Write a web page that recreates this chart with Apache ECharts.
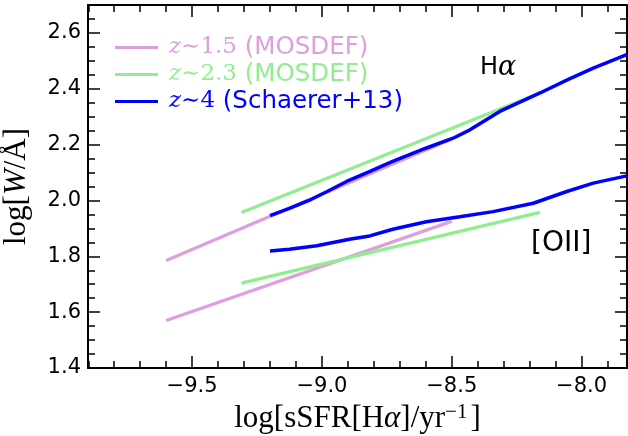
<!DOCTYPE html>
<html>
<head>
<meta charset="utf-8">
<script src="https://cdn.jsdelivr.net/npm/echarts@6/dist/echarts.min.js"></script>
<style>html,body{margin:0;padding:0;background:#fff}#c{width:628px;height:436px}</style>
</head>
<body>
<div id="c"></div>
<script>
// ---- data ----
const legendNames = ['z15', 'z23', 'z4'];
const pinkHaX = [-9.6, -8.5];
const pinkHaY = [1.785, 2.22];
const pinkOiiX = [-9.6, -8.5];
const pinkOiiY = [1.57, 1.925];
const greenHaX = [-9.31, -8.16];
const greenHaY = [1.957, 2.385];
const greenOiiX = [-9.31, -8.16];
const greenOiiY = [1.704, 1.957];
const blueHaX = [-9.2, -9.125, -9.05, -8.98, -8.905, -8.815, -8.73, -8.6, -8.495, -8.43, -8.315, -8.16, -8.055, -7.955, -7.826];
const blueHaY = [1.946, 1.972, 2.0, 2.032, 2.068, 2.104, 2.139, 2.187, 2.223, 2.253, 2.319, 2.385, 2.432, 2.474, 2.522];
const blueOiiX = [-9.2, -9.125, -9.02, -8.894, -8.816, -8.727, -8.598, -8.469, -8.341, -8.186, -8.057, -7.955, -7.826];
const blueOiiY = [1.819, 1.825, 1.838, 1.861, 1.873, 1.897, 1.924, 1.942, 1.960, 1.990, 2.032, 2.062, 2.088];

const xMajorTicks = [-9.5, -9.0, -8.5, -8.0];
const xMinorTicks = [-9.9, -9.8, -9.7, -9.6, -9.4, -9.3, -9.2, -9.1, -8.9, -8.8, -8.7, -8.6, -8.4, -8.3, -8.2, -8.1, -7.9];
const yMajorTicks = [1.4, 1.6, 1.8, 2.0, 2.2, 2.4, 2.6];
const yMinorTicks = [1.45, 1.5, 1.55, 1.65, 1.7, 1.75, 1.85, 1.9, 1.95, 2.05, 2.1, 2.15, 2.25, 2.3, 2.35, 2.45, 2.5, 2.55, 2.65];
const xRange = [-9.901, -7.825];
const yRange = [1.4, 2.7];

const zip = (xs, ys) => xs.map((x, i) => [x, ys[i]]);

const PINK = '#DDA0DD', GREEN = '#90EE90', BLUE = '#0000FF';
const legendText = {
  z15: '{m|z}{s|∼1.5}{t| (MOSDEF)}',
  z23: '{m|z}{s|∼2.3}{t| (MOSDEF)}',
  z4: '{m|z}{s|∼4}{t| (Schaerer+13)}'
};
const legendColors = {z15: PINK, z23: GREEN, z4: BLUE};
const rich = {
  m: {fontFamily: 'DejaVu Serif', fontStyle: 'italic', fontSize: 23},
  s: {fontFamily: 'DejaVu Serif', fontSize: 23},
  t: {fontFamily: 'DejaVu Sans', fontSize: 24.5}
};

const tickStyle = {lineStyle: {color: '#000', width: 1.5}};
function majorAxis(dim, pos, grid, showLabel, vals, range) {
  return {
    type: 'value', gridIndex: grid, position: pos, min: range[0], max: range[1],
    axisLine: {show: true, onZero: false, lineStyle: {color: '#000', width: 2}},
    axisTick: Object.assign({show: true, inside: true, length: 12, customValues: vals}, tickStyle),
    axisLabel: showLabel ? {
      show: true, customValues: vals, fontFamily: 'DejaVu Sans', fontSize: 21, color: '#000',
      margin: dim === 'x' ? 8 : 7,
      formatter: v => (v < 0 ? '−' + Math.abs(v).toFixed(1) : v.toFixed(1))
    } : {show: false},
    splitLine: {show: false}
  };
}
function minorAxis(pos, vals, range) {
  return {
    type: 'value', gridIndex: 1, position: pos, min: range[0], max: range[1],
    axisLine: {show: false, onZero: false},
    axisTick: Object.assign({show: true, inside: true, length: 7, customValues: vals}, tickStyle),
    axisLabel: {show: false}, splitLine: {show: false}
  };
}

const TF = 'Liberation Serif';
const xa0 = majorAxis('x', 'bottom', 0, true, xMajorTicks, xRange);
xa0.name = '{a|log[sSFR[H}{b|α}{a|]/yr}{c|−1}{a|]}';
xa0.nameLocation = 'middle';
xa0.nameGap = 32;
xa0.nameTextStyle = {
  rich: {
    a: {fontFamily: TF, fontSize: 31, color: '#000'},
    b: {fontFamily: TF, fontStyle: 'italic', fontSize: 31, color: '#000'},
    c: {fontFamily: TF, fontSize: 21, color: '#000', verticalAlign: 'top', padding: [0, 3, 12, 0]}
  }
};
const ya0 = majorAxis('y', 'left', 0, true, yMajorTicks, yRange);
ya0.name = '{a|log[}{b|W}{a|/Å]}';
ya0.nameLocation = 'middle';
ya0.nameGap = 56;
ya0.nameTextStyle = {
  rich: {
    a: {fontFamily: TF, fontSize: 31, color: '#000'},
    b: {fontFamily: TF, fontStyle: 'italic', fontSize: 31, color: '#000'}
  }
};

function line(name, xs, ys, color, w, z) {
  return {
    type: 'line', name: name, xAxisIndex: 0, yAxisIndex: 0, data: zip(xs, ys),
    showSymbol: false, symbol: 'none', smooth: false, z: z,
    lineStyle: {color: color, width: w}, itemStyle: {color: color}, animation: false
  };
}

const gridBox = {left: 88, right: 1, top: 5, bottom: 68, containLabel: false, outerBoundsMode: 'none'};
const chart = echarts.init(document.getElementById('c'), null, {renderer: 'canvas'});
chart.setOption({
  animation: false,
  grid: [Object.assign({}, gridBox), Object.assign({}, gridBox)],
  xAxis: [
    xa0,
    majorAxis('x', 'top', 0, false, xMajorTicks, xRange),
    minorAxis('bottom', xMinorTicks, xRange),
    minorAxis('top', xMinorTicks, xRange)
  ],
  yAxis: [
    ya0,
    majorAxis('y', 'right', 0, false, yMajorTicks, yRange),
    minorAxis('left', yMinorTicks, yRange),
    minorAxis('right', yMinorTicks, yRange)
  ],
  legend: {
    show: true, orient: 'vertical', left: 115, top: 34, itemGap: 0, padding: 0,
    itemWidth: 43, itemHeight: 3, icon: 'rect',
    data: legendNames.map(n => ({name: n, textStyle: {color: legendColors[n], rich: rich, lineHeight: 27, padding: [0, 0, 0, 6]}})),
    formatter: n => legendText[n],
    textStyle: {rich: rich, lineHeight: 27}
  },
  graphic: [
    {type: 'text', left: 480, top: 54, style: {text: '{h|H}{a|α}', rich: {
      h: {fontFamily: 'DejaVu Sans', fontSize: 24, fill: '#000'},
      a: {fontFamily: 'DejaVu Serif', fontStyle: 'italic', fontSize: 27, fill: '#000'}}}},
    {type: 'text', left: 531, top: 230, style: {text: '[OII]', font: '28px "DejaVu Sans"', fill: '#000'}}
  ],
  series: [
    line('z15', pinkHaX, pinkHaY, PINK, 3.3, 2),
    line('z15', pinkOiiX, pinkOiiY, PINK, 3.3, 2),
    line('z23', greenHaX, greenHaY, GREEN, 3.3, 3),
    line('z23', greenOiiX, greenOiiY, GREEN, 3.3, 3),
    line('z4', blueHaX, blueHaY, BLUE, 3.5, 4),
    line('z4', blueOiiX, blueOiiY, BLUE, 3.5, 4)
  ]
});
</script>
</body>
</html>
